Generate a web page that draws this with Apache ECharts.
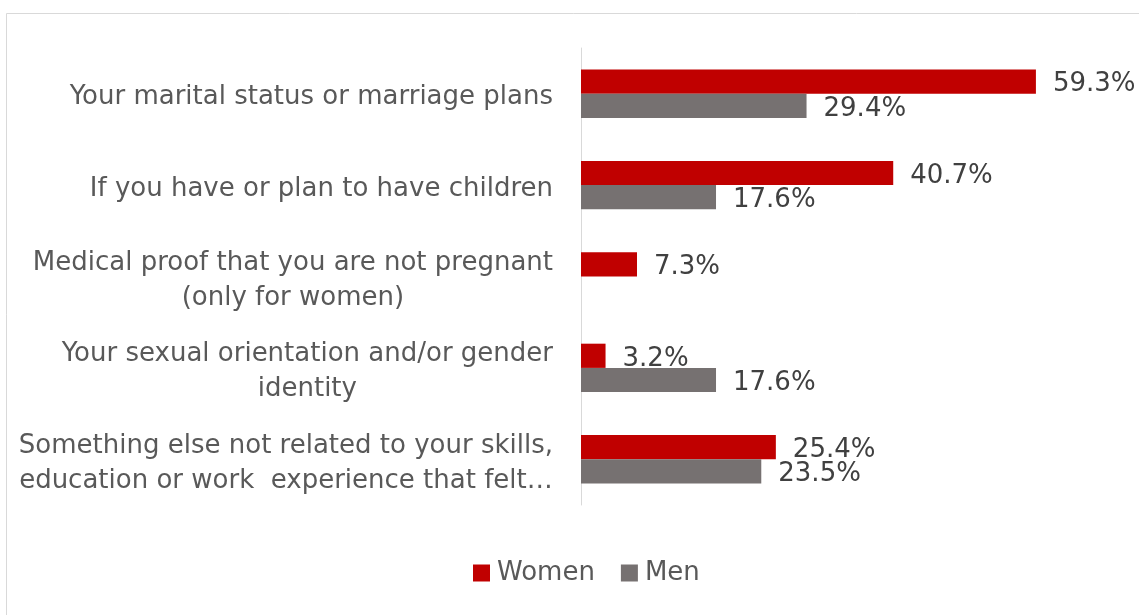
<!DOCTYPE html>
<html>
<head>
<meta charset="utf-8">
<script src="https://cdn.jsdelivr.net/npm/echarts@6/dist/echarts.min.js"></script>
<style>
  html, body { margin: 0; padding: 0; background: #fff; }
  #chart { width: 1139px; height: 615px; }
</style>
</head>
<body>
<div id="chart"></div>
<script>
// Survey items, listed top to bottom
const categories = [
  'Your marital status or marriage plans',
  'If you have or plan to have children',
  'Medical proof that you are not pregnant\n(only for women)',
  'Your sexual orientation and/or gender\nidentity',
  'Something else not related to your skills,\neducation or work  experience that felt\u2026'
];
// Share of respondents asked about each item (%)
const women = [59.3, 40.7, 7.3, 3.2, 25.4];
const men = [29.4, 17.6, null, 17.6, 23.5];

const FONT = 'DejaVu Sans';

const chart = echarts.init(document.getElementById('chart'), null, { renderer: 'canvas' });

const valueLabel = {
  show: true,
  position: 'right',
  distance: 17,
  offset: [0, 3],
  fontFamily: FONT,
  fontSize: 26,
  color: '#404040',
  formatter: p => p.value.toFixed(1) + '%'
};

chart.setOption({
  backgroundColor: '#ffffff',
  animation: false,
  graphic: [{
    type: 'rect',
    shape: { x: 6.5, y: 13.5, width: 1300, height: 800 },
    style: { fill: 'none', stroke: '#d9d9d9', lineWidth: 1 },
    silent: true
  }],
  legend: {
    bottom: 24,
    left: 468,
    itemWidth: 17,
    itemHeight: 17,
    itemGap: 26,
    icon: 'rect',
    textStyle: { fontFamily: FONT, fontSize: 26, color: '#595959', padding: [0, 0, 0, 2] },
    data: ['Women', 'Men']
  },
  grid: { left: 581, right: 21, top: 48, bottom: 110, containLabel: false },
  xAxis: {
    type: 'value',
    min: 0,
    max: 70,
    show: false
  },
  yAxis: {
    type: 'category',
    inverse: true,
    data: categories,
    axisLine: { show: true, lineStyle: { color: '#d9d9d9', width: 1 } },
    axisTick: { show: false },
    axisLabel: {
      margin: 28,
      padding: [8, 0, 0, 0],
      fontFamily: FONT,
      fontSize: 26,
      color: '#595959',
      lineHeight: 35,
      formatter: v => v.split('\n').map(l => '{c|' + l + '}').join('\n'),
      rich: {
        c: { align: 'center', fontFamily: FONT, fontSize: 26, color: '#595959', lineHeight: 35 }
      }
    }
  },
  series: [
    {
      name: 'Women',
      type: 'bar',
      data: women,
      z: 2,
      barGap: '0%',
      barCategoryGap: '47%',
      itemStyle: { color: '#c00000' },
      label: valueLabel
    },
    {
      name: 'Men',
      type: 'bar',
      data: men,
      z: 3,
      itemStyle: { color: '#767171' },
      label: valueLabel
    }
  ]
});
</script>
</body>
</html>
